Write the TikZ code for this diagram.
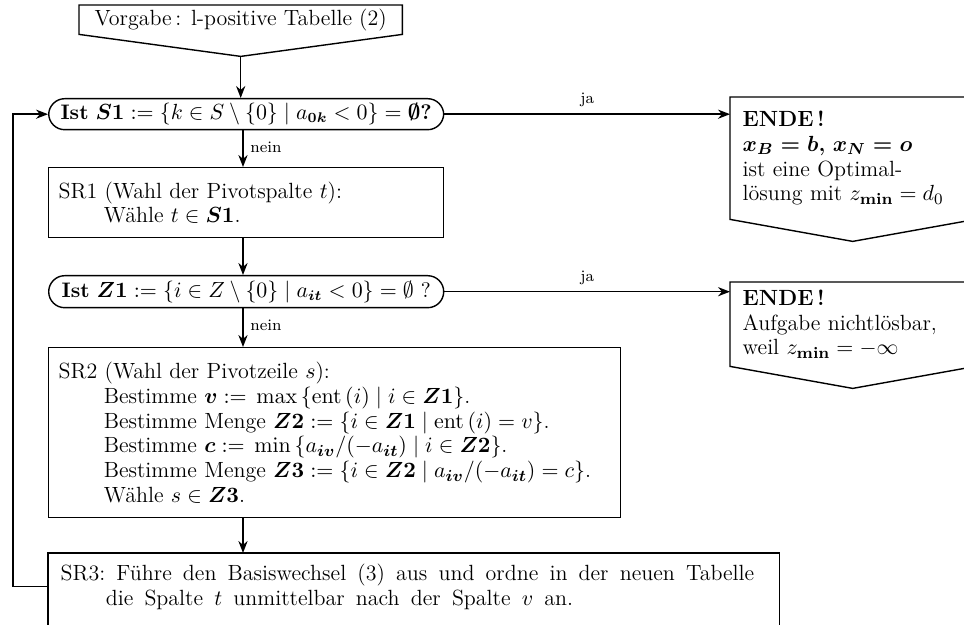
\documentclass[tikz,border=0pt]{standalone}
\usepackage{amsmath}
\usetikzlibrary{arrows.meta, calc}

\begin{document}
\begin{tikzpicture}[x=0.5pt, y=-0.5pt, >={Stealth[length=6pt, width=4.6pt]}, line width=0.7pt,
  every node/.style={font=\fontsize{11}{12.4}\selectfont},
  kasten/.style={draw, anchor=north west, align=left, inner xsep=5pt},
  frage/.style={draw, anchor=north west, rounded corners=8pt, minimum width=197.5pt, inner xsep=5pt, inner ysep=2pt, font=\fontsize{10.5}{12.4}\selectfont},
  textfeld/.style={anchor=north west, align=left, inner xsep=6pt},
  lbl/.style={font=\footnotesize}]
  \useasboundingbox (0,0) rectangle (964,625);
  \clip (0,0) rectangle (964,625);
  \coordinate (achse) at (243,0);
  % startfeld (fuenfeck nach unten)
  \node[textfeld, align=center, minimum width=161pt, minimum height=14pt, inner sep=0pt] (vorgabe) at (79,5) {Vorgabe\,: l-positive Tabelle (2)};
  \coordinate (vtip) at ($(vorgabe.south)+(0,22)$);
  \draw (vorgabe.south west) -- (vorgabe.north west) -- (vorgabe.north east) -- (vorgabe.south east) -- (vtip) -- cycle;
  % abfrage S1 und ende (optimal)
  \node[frage, minimum height=15.5pt] (s1) at (48,98) {\textbf{Ist} $\boldsymbol{S1}\;{:=}\;\{k\in S\setminus\{0\}\mid a_{\boldsymbol{0k}}<0\}=\boldsymbol{\emptyset}$\textbf{?}};
  \draw[->] (vtip) -- (vtip |- s1.north);
  \node[textfeld, minimum width=122pt, minimum height=60.5pt, text width=110pt] (ende1) at (730,97) {\textbf{ENDE\,!}\\$\boldsymbol{x_B=b}$\textbf{,} $\boldsymbol{x_N=o}$\\ist eine Optimal-\\lösung mit $z_{\mathbf{min}}=d_0$};
  \draw (ende1.south west) -- (ende1.north west) -- (ende1.north east) -- (ende1.south east) -- ($(ende1.south)+(0,22)$) -- cycle;
  \draw[->] (s1.east) -- node[above, lbl]{ja} (s1.east -| ende1.west);
  % SR1
  \node[kasten, minimum width=197.5pt, minimum height=35pt, text width=187.5pt] (sr1) at (48,167) {SR1 (Wahl der Pivotspalte $t$):\\\hspace*{2.05em}Wähle $t\in\boldsymbol{S1}$.};
  \draw[->] (s1.south -| achse) -- node[right, lbl, pos=0.45]{nein} (sr1.north -| achse);
  % abfrage Z1 und ende (unbeschraenkt)
  \node[frage, minimum height=16pt] (z1) at (48,275) {\textbf{Ist} $\boldsymbol{Z1}\;{:=}\;\{i\in Z\setminus\{0\}\mid a_{\boldsymbol{it}}<0\}=\emptyset$ ?};
  \draw[->] (sr1.south -| achse) -- (z1.north -| achse);
  \node[textfeld, minimum width=122pt, minimum height=41.5pt, text width=110pt] (ende2) at (730,282) {\textbf{ENDE\,!}\\Aufgabe nichtlösbar,\\weil $z_{\mathbf{min}}=-\infty$};
  \draw (ende2.south west) -- (ende2.north west) -- (ende2.north east) -- (ende2.south east) -- ($(ende2.south)+(0,22)$) -- cycle;
  \draw[->] (z1.east) -- node[above, lbl]{ja} (z1.east -| ende2.west);
  % SR2
  \node[kasten, minimum width=286pt, minimum height=85pt, text width=276pt] (sr2) at (48,347) {SR2 (Wahl der Pivotzeile $s$):\\
    \hspace*{2.05em}Bestimme $\boldsymbol{v}\;{:=}\;\max\,\{\mathrm{ent}\,(i)\mid i\in\boldsymbol{Z1}\}$.\\
    \hspace*{2.05em}Bestimme Menge $\boldsymbol{Z2}\;{:=}\;\{i\in\boldsymbol{Z1}\mid\mathrm{ent}\,(i)=v\}$.\\
    \hspace*{2.05em}Bestimme $\boldsymbol{c}\;{:=}\;\min\,\{a_{\boldsymbol{iv}}/(-a_{\boldsymbol{it}})\mid i\in\boldsymbol{Z2}\}$.\\
    \hspace*{2.05em}Bestimme Menge $\boldsymbol{Z3}\;{:=}\;\{i\in\boldsymbol{Z2}\mid a_{\boldsymbol{iv}}/(-a_{\boldsymbol{it}})=c\}$.\\
    \hspace*{2.05em}Wähle $s\in\boldsymbol{Z3}$.};
  \draw[->] (z1.south -| achse) -- node[right, lbl, pos=0.45]{nein} (sr2.north -| achse);
  % SR3 (unten offen)
  \node[textfeld, text width=353pt, inner ysep=5pt] (sr3) at (48,553) {\spaceskip=5.6pt plus 1pt minus 1pt\relax SR3: Führe den Basiswechsel (3) aus und ordne in der neuen Tabelle\\\hspace*{2.05em}die Spalte $t$ unmittelbar nach der Spalte $v$ an.};
  \draw ($(sr3.south west)+(0,30)$) -- (sr3.north west) -- (sr3.north east) -- ($(sr3.south east)+(0,30)$);
  \draw[->] (sr2.south -| achse) -- (sr3.north -| achse);
  % rueckfuehrung
  \draw[->] (sr3.west) -- ++(-35,0) |- (s1.west);
\end{tikzpicture}
\end{document}
